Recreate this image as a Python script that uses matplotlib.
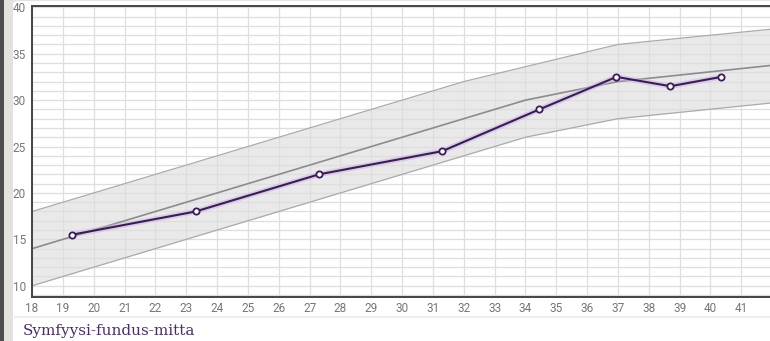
import matplotlib.pyplot as plt
from matplotlib.patches import FancyBboxPatch, Rectangle
import numpy as np

# Measured values (week, cm)
weeks = [19.3, 23.3, 27.3, 31.3, 34.45, 36.95, 38.7, 40.35]
sf_cm = [15.5, 18.0, 22.0, 24.5, 29.0, 32.5, 31.5, 32.5]

# Reference curves
upper_x = [18, 32, 37, 42]
upper_y = [18, 32, 36, 37.65]
median_x = [18, 34, 37, 42]
median_y = [14, 30, 32, 33.75]
lower_x = [18, 34, 37, 42]
lower_y = [10, 26, 28, 29.7]

x_ticks = list(range(18, 42))
y_ticks = [10, 15, 20, 25, 30, 35, 40]
title = "Symfyysi-fundus-mitta"

W, H = 770, 341
fig = plt.figure(figsize=(W / 100, H / 100), dpi=100)
fig.patch.set_facecolor("#e5e1dd")

# background strips and white card (behind the axes)
fig.patches.append(Rectangle((0, 0), 4 / W, 1, transform=fig.transFigure,
                             facecolor="#4d4d4d", edgecolor="none", zorder=-10))
fig.patches.append(FancyBboxPatch((13 / W, -20 / H), (W + 20) / W, (H + 19) / H,
                                  boxstyle="round,pad=0,rounding_size=0.008",
                                  transform=fig.transFigure, facecolor="white",
                                  edgecolor="none", zorder=-10))
fig.add_artist(plt.Line2D([15 / W, 1], [1 - 317 / H, 1 - 317 / H],
                          transform=fig.transFigure, color="#ebebeb", lw=1.2))

ax = fig.add_axes([31.5 / W, 1 - 296.7 / H, 1 - 31.5 / W, (296.7 - 6) / H])
ax.set_facecolor("white")

# band between upper and lower curves
gx = np.linspace(18, 42, 241)
up = np.interp(gx, upper_x, upper_y)
lo = np.interp(gx, lower_x, lower_y)
ax.fill_between(gx, lo, up, color="#e9e9e9", lw=0, zorder=0.3)
ax.plot(upper_x, upper_y, color="#ababab", lw=0.9, zorder=2)
ax.plot(lower_x, lower_y, color="#ababab", lw=0.9, zorder=2)
ax.plot(median_x, median_y, color="#8c8c8c", lw=1.2, zorder=2)

# measured line with soft glow
ax.plot(weeks, sf_cm, color="#c9b3dc", lw=4, alpha=0.5, zorder=3,
        solid_capstyle="round")
ax.plot(weeks, sf_cm, color="#3b1b5a", lw=1.5, zorder=4,
        marker="o", markersize=4.5, markerfacecolor="white",
        markeredgecolor="#3b1b5a", markeredgewidth=1.3)

ax.set_xticks(x_ticks)
ax.set_yticks(y_ticks)
ax.set_xticks(np.arange(18, 43, 1), minor=True)
ax.set_yticks(np.arange(9, 41, 1), minor=True)
ax.set_xlim(17.98, 41.93)
ax.set_ylim(8.82, 40.14)
ax.grid(True, which="both", color="#dedede", lw=0.9)
ax.set_axisbelow(True)

ax.tick_params(which="both", length=0, colors="#777777", labelsize=8.5,
               pad=4)
for lab in ax.get_xticklabels() + ax.get_yticklabels():
    lab.set_fontfamily("Roboto")

for side in ["left", "bottom", "top"]:
    ax.spines[side].set_color("#444444")
    ax.spines[side].set_linewidth(1.4)
ax.spines["right"].set_visible(False)

fig.text(23 / W, 1 - 331 / H, title, family="DejaVu Serif", fontsize=11,
         color="#4b2b6b", va="center", ha="left")

fig.savefig("out.png", dpi=100, facecolor=fig.get_facecolor())
